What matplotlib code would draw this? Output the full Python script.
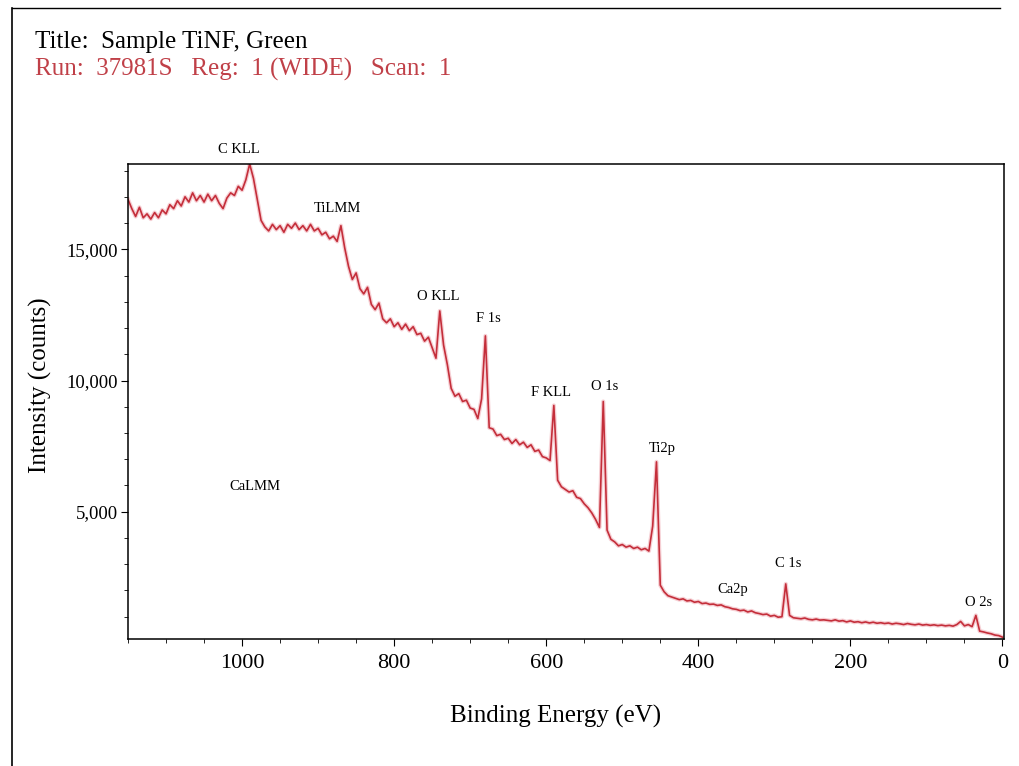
import numpy as np
import matplotlib.pyplot as plt
from matplotlib.lines import Line2D
from matplotlib.ticker import MultipleLocator, FuncFormatter

plt.rcParams["font.family"] = ["Liberation Serif", "DejaVu Serif"]

# binding energy grid of the survey scan (eV), 5 eV steps from 1150 down to 0
energy = np.arange(1150, -1, -5)

# intensity (counts), one row = 50 eV
intensity = [
    16900, 16550, 16250, 16600, 16200, 16350, 16150, 16400, 16200, 16500,  # 1150-1105
    16350, 16700, 16550, 16850, 16650, 17000, 16800, 17150, 16850, 17050,  # 1100-1055
    16800, 17100, 16850, 17050, 16750, 16550, 16950, 17150, 17050, 17400,  # 1050-1005
    17250, 17650, 18250, 17700, 16900, 16100, 15850, 15700, 15950, 15750,  # 1000-955
    15900, 15650, 15950, 15800, 16000, 15750, 15900, 15700, 15950, 15700,  # 950-905
    15800, 15550, 15650, 15400, 15500, 15300, 15900, 15050, 14350, 13850,  # 900-855
    14100, 13500, 13300, 13550, 12900, 12700, 12950, 12350, 12200, 12350,  # 850-805
    12050, 12200, 11950, 12150, 11900, 12050, 11750, 11800, 11500, 11650,  # 800-755
    11250, 10850, 12650, 11350, 10600, 9700, 9400, 9500, 9200, 9250,  # 750-705
    8950, 8900, 8550, 9300, 11700, 8200, 8150, 7900, 7950, 7750,  # 700-655
    7800, 7600, 7750, 7550, 7650, 7450, 7550, 7300, 7350, 7100,  # 650-605
    7050, 6950, 9050, 6200, 5950, 5850, 5750, 5800, 5550, 5500,  # 600-555
    5300, 5150, 4950, 4700, 4400, 9200, 4300, 3950, 3850, 3700,  # 550-505
    3750, 3650, 3700, 3600, 3650, 3550, 3600, 3500, 4450, 6900,  # 500-455
    2200, 1950, 1800, 1750, 1700, 1650, 1680, 1600, 1620, 1550,  # 450-405
    1580, 1500, 1520, 1470, 1480, 1430, 1450, 1380, 1350, 1300,  # 400-355
    1280, 1230, 1250, 1180, 1220, 1150, 1120, 1080, 1100, 1020,  # 350-305
    1050, 980, 1000, 2250, 1050, 960, 940, 920, 950, 900,  # 300-255
    880, 910, 870, 880, 860, 840, 880, 830, 850, 800,  # 250-205
    840, 790, 810, 770, 800, 760, 790, 750, 770, 740,  # 200-155
    760, 720, 750, 730, 700, 740, 710, 690, 720, 680,  # 150-105
    700, 670, 690, 660, 680, 650, 670, 640, 700, 820,  # 100-55
    650, 700, 620, 1050, 450, 420, 380, 350, 300, 280,  # 50-5
    220,  # 0
]

# peak labels and where they sit (energy, counts)
peak_names = ["C KLL", "TiLMM", "O KLL", "F 1s", "F KLL", "O 1s", "Ti2p",
              "CaLMM", "Ca2p", "C 1s", "O 2s"]
peak_x = [1004, 874, 742, 676, 594, 523, 448, 983, 355, 282, 31]
peak_y = [18800, 16560, 13200, 12370, 9540, 9770, 7400, 5950, 2020, 3010, 1530]

W, H = 1020, 766
fig = plt.figure(figsize=(W / 100, H / 100), dpi=100)


def fx(x):
    return x / W


def fy(y):
    return 1 - y / H


ax = fig.add_axes([fx(128), fy(639), fx(1004) - fx(128), fy(164) - fy(639)])
ax.plot(energy, intensity, color="#f0b0b8", lw=3.0, alpha=0.6, solid_joinstyle="round")
ax.plot(energy, intensity, color="#c42e3a", lw=1.2)

ax.set_xlim(1150, -2)
ax.set_ylim(150, 18250)
ax.xaxis.set_major_locator(MultipleLocator(200))
ax.xaxis.set_minor_locator(MultipleLocator(50))
ax.yaxis.set_major_locator(MultipleLocator(5000))
ax.yaxis.set_minor_locator(MultipleLocator(1000))
ax.yaxis.set_major_formatter(FuncFormatter(lambda v, p: "" if v <= 0 else f"{int(v):,}"))
ax.tick_params(axis="x", which="major", direction="out", length=5, labelsize=16, pad=6)
ax.tick_params(axis="y", which="major", direction="out", length=5, labelsize=13.5, pad=2)
ax.tick_params(which="minor", direction="out", length=3)
for s in ax.spines.values():
    s.set_linewidth(1.1)

ax.set_xlabel("Binding Energy (eV)", fontsize=18)
ax.xaxis.set_label_coords(0.4886, -0.139)
ax.set_ylabel("Intensity (counts)", fontsize=18)
ax.yaxis.set_label_coords(-0.087, 0.535)

for name, x, y in zip(peak_names, peak_x, peak_y):
    ax.text(x, y, name, fontsize=10.5, ha="center", va="center", clip_on=False)

fig.text(fx(35), fy(48), "Title:  Sample TiNF, Green", fontsize=18, va="baseline")
fig.text(fx(35), fy(76), "Run:  37981S   Reg:  1 (WIDE)   Scan:  1",
         fontsize=18, va="baseline", color="#c04048")

# page frame lines
fig.add_artist(Line2D([fx(12), fx(12)], [fy(8), fy(766)], color="black", lw=1.2))
fig.add_artist(Line2D([fx(12), fx(1000)], [fy(8), fy(8)], color="black", lw=1.0))

fig.savefig("out.png", dpi=100)
